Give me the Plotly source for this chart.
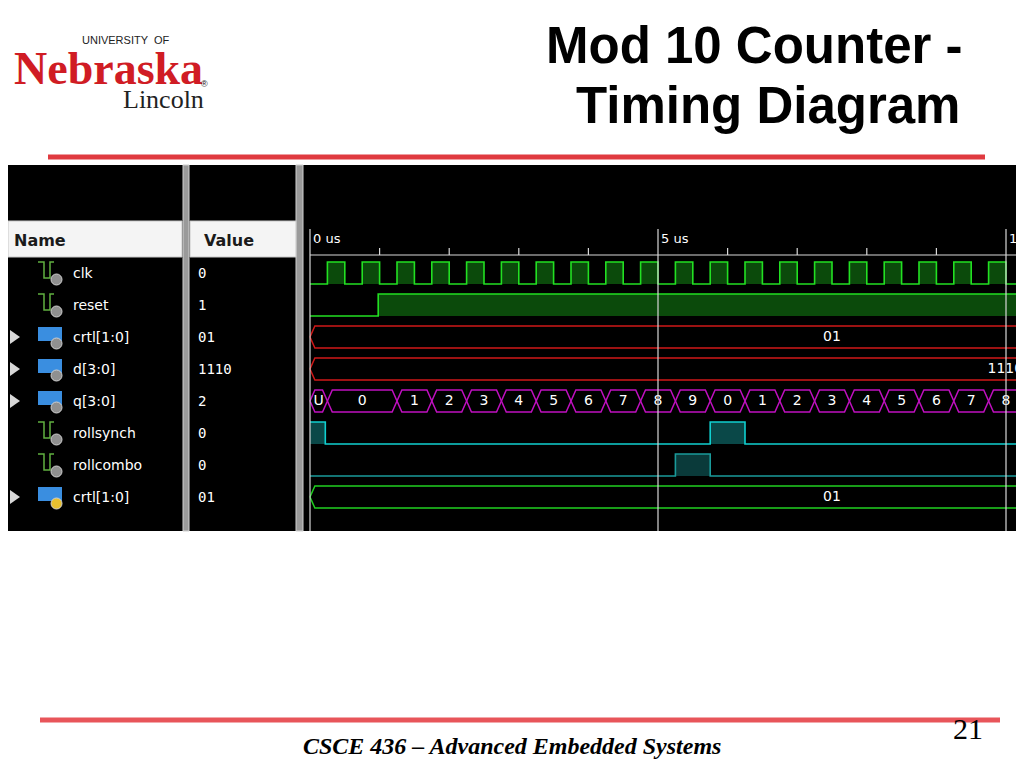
import plotly.graph_objects as go

# signal list (name column / value column)
sig_names = ["clk", "reset", "crtl[1:0]", "d[3:0]", "q[3:0]", "rollsynch", "rollcombo", "crtl[1:0]"]
sig_values = ["0", "1", "01", "1110", "2", "0", "0", "01"]
sig_is_bus = [False, False, True, True, True, False, False, True]
row_y = [273, 305, 337, 369, 401, 433, 465, 497]

# waveforms (time in us, level 0/1)
clk_t = [0, 0.25, 0.5, 0.75, 1.0, 1.25, 1.5, 1.75, 2.0, 2.25, 2.5, 2.75, 3.0, 3.25, 3.5, 3.75,
         4.0, 4.25, 4.5, 4.75, 5.0, 5.25, 5.5, 5.75, 6.0, 6.25, 6.5, 6.75, 7.0, 7.25, 7.5, 7.75,
         8.0, 8.25, 8.5, 8.75, 9.0, 9.25, 9.5, 9.75, 10.0, 10.25, 10.5]
clk_v = [0, 1, 0, 1, 0, 1, 0, 1, 0, 1, 0, 1, 0, 1, 0, 1,
         0, 1, 0, 1, 0, 1, 0, 1, 0, 1, 0, 1, 0, 1, 0, 1,
         0, 1, 0, 1, 0, 1, 0, 1, 0, 1, 0]
reset_t = [0, 0.98, 11]
reset_v = [0, 1, 1]
rollsynch_t = [0, 0.22, 5.75, 6.25, 11]
rollsynch_v = [1, 0, 1, 0, 0]
rollcombo_t = [0, 5.25, 5.75, 11]
rollcombo_v = [0, 1, 0, 0]

# buses: segment boundaries and labels
crtl_t = [0, 15]
crtl_lbl = ["01"]
d_t = [0, 20]
d_lbl = ["1110"]
q_t = [0, 0.25, 1.25, 1.75, 2.25, 2.75, 3.25, 3.75, 4.25, 4.75, 5.25, 5.75, 6.25, 6.75, 7.25,
       7.75, 8.25, 8.75, 9.25, 9.75, 10.25, 10.75]
q_lbl = ["U", "0", "1", "2", "3", "4", "5", "6", "7", "8", "9", "0", "1", "2", "3", "4", "5", "6", "7", "8", "9"]
crtl2_t = [0, 15]
crtl2_lbl = ["01"]

ticks_minor = [1, 2, 3, 4, 6, 7, 8, 9]
ticks_major = [0, 5, 10]
tick_lbl = ["0 us", "5 us", "10 us"]

# page has an 8px body margin all round
OFF = 8
W = 1024 - 2 * OFF
H = 768 - 2 * OFF


def P(px):
    return (px - OFF) / float(W)


# time axis: 0 us at window x=310, 69.6 px per us
T0 = (308 - 310) / 69.6
T1 = (1024 - OFF - 310) / 69.6

fig = go.Figure()
shapes = []
ann = []

# black tool window
shapes.append(dict(type="rect", xref="paper", yref="y", x0=0, x1=1, y0=165, y1=531,
                   fillcolor="black", line_width=0, layer="below"))
for a, b in [(183, 189), (296, 303)]:
    shapes.append(dict(type="rect", xref="paper", yref="y", x0=P(a), x1=P(b), y0=165, y1=531,
                       fillcolor="#9a9a9a", line=dict(color="#d0d0d0", width=1), layer="below"))
for a, b, t in [(0, 182, "Name"), (190, 296, "Value")]:
    shapes.append(dict(type="rect", xref="paper", yref="y", x0=max(P(a), 0), x1=P(b), y0=221, y1=257,
                       fillcolor="#f4f4f4", line=dict(color="#c8c8c8", width=1), layer="below"))
    ann.append(dict(xref="paper", yref="y", x=P(max(a, OFF) + 4 if a == 0 else a + 12), y=240, text=t,
                    showarrow=False, xanchor="left",
                    font=dict(family="DejaVu Sans", size=16, color="#1a1a1a", weight="bold")))

green_icon = "#60b040"
for i, y in enumerate(row_y):
    ann.append(dict(xref="paper", yref="y", x=P(71), y=y, text=sig_names[i], showarrow=False,
                    xanchor="left", font=dict(family="DejaVu Sans", size=14, color="white")))
    ann.append(dict(xref="paper", yref="y", x=P(196), y=y, text=sig_values[i], showarrow=False,
                    xanchor="left", font=dict(family="DejaVu Sans Mono", size=14, color="white")))
    if sig_is_bus[i]:
        shapes.append(dict(type="path", xref="paper", yref="y",
                           path="M %f,%f L %f,%f L %f,%f Z" % (P(10), y - 7, P(10), y + 7, P(20), y),
                           fillcolor="#d8d8d8", line_width=0))
        shapes.append(dict(type="rect", xref="paper", yref="y", x0=P(38), x1=P(62), y0=y - 10, y1=y + 4,
                           fillcolor="#3a8ee0", line_width=0))
    else:
        shapes.append(dict(type="path", xref="paper", yref="y",
                           path="M %f,%f L %f,%f L %f,%f L %f,%f L %f,%f L %f,%f" % (
                               P(38), y - 11, P(44), y - 11, P(44), y + 5, P(50), y + 5, P(50), y - 11, P(54), y - 11),
                           line=dict(color=green_icon, width=1.5)))
    marker_col = "#e8c030" if i == 7 else "#909090"
    shapes.append(dict(type="circle", xref="paper", yref="y", x0=P(51), x1=P(62), y0=y + 1, y1=y + 12,
                       fillcolor=marker_col, line=dict(color="#d0d0d0", width=1)))

# time ruler
for t in ticks_major:
    shapes.append(dict(type="line", xref="x", yref="y", x0=t, x1=t, y0=229, y1=531,
                       line=dict(color="#d8d8d8", width=1.2)))
for t in ticks_minor:
    shapes.append(dict(type="line", xref="x", yref="y", x0=t, x1=t, y0=248, y1=255,
                       line=dict(color="#d8d8d8", width=1.2)))
shapes.append(dict(type="line", xref="x", yref="y", x0=0, x1=T1, y0=255, y1=255,
                   line=dict(color="#d8d8d8", width=1.2)))
for t, s in zip(ticks_major, tick_lbl):
    ann.append(dict(xref="x", yref="y", x=t + 0.02, y=238, text=s, showarrow=False, xanchor="left",
                    font=dict(family="DejaVu Sans", size=13, color="white")))


def levels(ts, vs, yc):
    return ts, [yc - 11 if v else yc + 11 for v in vs]


def add_bit(ts, vs, yc, col, fillcol):
    xs, ys = levels(ts, vs, yc)
    fig.add_trace(go.Scatter(x=[xs[0], xs[-1]], y=[yc + 11, yc + 11], mode="lines",
                             line=dict(width=0), hoverinfo="skip", showlegend=False))
    fig.add_trace(go.Scatter(x=xs, y=ys, mode="lines", line=dict(color=col, width=1.6, shape="hv"),
                             fill="tonexty", fillcolor=fillcol, hoverinfo="skip", showlegend=False))


add_bit(clk_t, clk_v, row_y[0], "#22e022", "#0b4a0b")
add_bit(reset_t, reset_v, row_y[1], "#22e022", "#0b4a0b")
add_bit(rollsynch_t, rollsynch_v, row_y[5], "#10d0d0", "#0a4848")
add_bit(rollcombo_t, rollcombo_v, row_y[6], "#1a9a9a", "#0a3a3a")


def add_bus(ts, lbls, yc, col, lbl_x=None):
    d = 0.07
    xs, ys = [], []
    for a, b in zip(ts[:-1], ts[1:]):
        xs += [a, a + d, b - d, b, b - d, a + d, a, None]
        ys += [yc, yc - 11, yc - 11, yc, yc + 11, yc + 11, yc, None]
    fig.add_trace(go.Scatter(x=xs, y=ys, mode="lines", line=dict(color=col, width=1.5),
                             hoverinfo="skip", showlegend=False))
    cx = lbl_x if lbl_x is not None else [(a + b) / 2 for a, b in zip(ts[:-1], ts[1:])]
    fig.add_trace(go.Scatter(x=cx, y=[yc] * len(lbls), mode="text", text=lbls,
                             textfont=dict(family="DejaVu Sans", size=14, color="white"),
                             hoverinfo="skip", showlegend=False))


add_bus(crtl_t, crtl_lbl, row_y[2], "#d01818")
add_bus(d_t, d_lbl, row_y[3], "#d01818", lbl_x=[9.99])
add_bus(q_t, q_lbl, row_y[4], "#c010c0")
add_bus(crtl2_t, crtl2_lbl, row_y[7], "#20d020")

# slide decoration
shapes.append(dict(type="line", xref="paper", yref="y", x0=P(48), x1=P(985), y0=157, y1=157,
                   line=dict(color="#e03a40", width=5)))
shapes.append(dict(type="line", xref="paper", yref="y", x0=P(40), x1=P(1000), y0=720, y1=720,
                   line=dict(color="#e8555a", width=5)))

ann += [
    dict(xref="paper", yref="y", x=P(965), y=45, text="Mod 10 Counter -", showarrow=False, xanchor="right",
         font=dict(family="Liberation Sans", size=51, color="black", weight="bold")),
    dict(xref="paper", yref="y", x=P(962), y=105, text="Timing Diagram", showarrow=False, xanchor="right",
         font=dict(family="Liberation Sans", size=51, color="black", weight="bold")),
    dict(xref="paper", yref="y", x=P(12), y=68, text="Nebraska", showarrow=False, xanchor="left",
         font=dict(family="Liberation Serif", size=46, color="#d01c24", weight="bold")),
    dict(xref="paper", yref="y", x=P(80), y=40, text="UNIVERSITY  OF", showarrow=False, xanchor="left",
         font=dict(family="Liberation Sans", size=11, color="#222222")),
    dict(xref="paper", yref="y", x=P(121), y=99, text="Lincoln", showarrow=False, xanchor="left",
         font=dict(family="Liberation Serif", size=26, color="#222222")),
    dict(xref="paper", yref="y", x=P(199), y=84, text="®", showarrow=False, xanchor="left",
         font=dict(family="Liberation Sans", size=9, color="#222222")),
    dict(xref="paper", yref="y", x=P(512), y=746, text="CSCE 436 – Advanced Embedded Systems", showarrow=False,
         font=dict(family="Liberation Serif", size=24, color="black", style="italic", weight="bold")),
    dict(xref="paper", yref="y", x=P(985), y=728, text="21", showarrow=False,
         font=dict(family="Liberation Serif", size=30, color="black")),
]

fig.update_layout(
    width=W, height=H, margin=dict(l=0, r=0, t=0, b=0),
    paper_bgcolor="white", plot_bgcolor="rgba(0,0,0,0)",
    xaxis=dict(domain=[P(308), 1], range=[T0, T1], visible=False, fixedrange=True),
    yaxis=dict(domain=[0, 1], range=[768 - OFF, OFF], visible=False, fixedrange=True),
    shapes=shapes, annotations=ann, showlegend=False,
)

fig.write_html("out.html")
